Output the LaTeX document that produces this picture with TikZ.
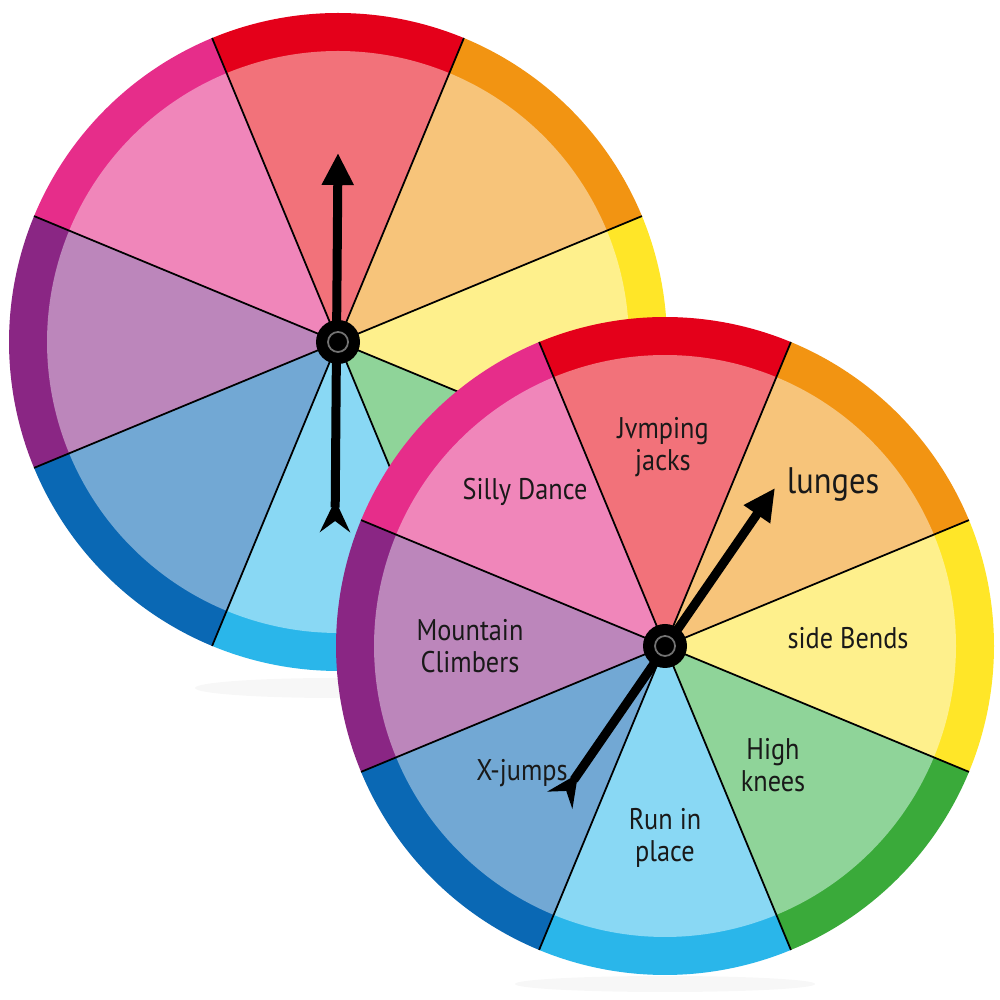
\documentclass[tikz,border=0pt]{standalone}
\usepackage{fontspec}
\newfontfamily\spinfont[FakeStretch=0.88]{PT Sans}
\usepackage{tikz}
\usetikzlibrary{arrows.meta}
\definecolor{wRed}{RGB}{228,0,26}
\definecolor{wRedL}{RGB}{242,114,122}
\definecolor{wOrange}{RGB}{242,148,18}
\definecolor{wOrangeL}{RGB}{247,196,122}
\definecolor{wYellow}{RGB}{255,230,40}
\definecolor{wYellowL}{RGB}{254,240,140}
\definecolor{wGreen}{RGB}{58,170,58}
\definecolor{wGreenL}{RGB}{143,212,153}
\definecolor{wCyan}{RGB}{42,182,234}
\definecolor{wCyanL}{RGB}{137,216,244}
\definecolor{wBlue}{RGB}{10,104,180}
\definecolor{wBlueL}{RGB}{114,168,212}
\definecolor{wPurple}{RGB}{138,38,132}
\definecolor{wPurpleL}{RGB}{188,134,187}
\definecolor{wPink}{RGB}{230,45,138}
\definecolor{wPinkL}{RGB}{240,134,186}
\tikzset{
  segline/.style={black,line width=0.5pt},
  hub/.style={circle,fill=black,minimum size=4.4mm,inner sep=0pt},
  lbl/.style={font=\spinfont\fontsize{8.5}{9.3}\selectfont,align=center,text=black!90},
  biglbl/.style={lbl,font=\spinfont\fontsize{10.5}{12}\selectfont},
  pointer/.style={black,line width=0.9mm,
    arrows={Stealth[reversed,width=3mm,length=3.2mm,inset=1.1mm]-Triangle[width=3mm,length=3.2mm]}},
  pics/spinwheel/.style={code={
    \foreach \band/\soft [count=\i from 0] in
        {wRed/wRedL,wOrange/wOrangeL,wYellow/wYellowL,wGreen/wGreenL,
         wCyan/wCyanL,wBlue/wBlueL,wPurple/wPurpleL,wPink/wPinkL}{
      \pgfmathsetmacro\a{90-45*\i}
      \fill[\band] (0,0) -- ({\a-22.5}:3.29)
        arc[start angle=\a-22.5,end angle=\a+22.5,radius=3.29] -- cycle;
      \fill[\soft] (0,0) -- ({\a-22.5}:2.91)
        arc[start angle=\a-22.5,end angle=\a+22.5,radius=2.91] -- cycle;
    }
    \foreach \i in {0,...,7}
      \draw[segline] (0,0) -- ({22.5+45*\i}:3.29);
  }}
}
\begin{document}
\begin{tikzpicture}
  \useasboundingbox (0,0) rectangle (10,10);

  % faint shadows
  \fill[black!3] (3.35,3.12) ellipse[x radius=1.4,y radius=0.1];
  \fill[black!3] (6.65,0.16) ellipse[x radius=1.5,y radius=0.08];

  % back wheel
  \pic at (3.38,6.58) {spinwheel};
  \coordinate (btail) at (3.35,4.68);
  \coordinate (btip) at (3.38,8.47);
  \draw[pointer] (btail) -- (btip);
  \node[hub] (bhub) at (3.38,6.58) {};
  \draw[black!55,line width=0.5pt] (bhub) circle[radius=0.1];

  % front wheel
  \pic at (6.65,3.54) {spinwheel};

  \node[lbl] (jacks) at (6.63,5.53) {Jvmping\\jacks};
  \node[biglbl] (lunges) at (8.33,5.15) {lunges};
  \node[lbl] (bends) at (8.48,3.62) {side Bends};
  \node[lbl] (knees) at (7.73,2.35) {High\\knees};
  \node[lbl] (run) at (6.65,1.62) {Run in\\place};
  \node[lbl] (xjump) at (5.22,2.27) {X-jumps};
  \node[lbl] (climb) at (4.70,3.54) {Mountain\\Climbers};
  \node[lbl] (dance) at (5.25,5.08) {Silly Dance};

  \coordinate (ftail) at (5.60,2.00);
  \coordinate (ftip) at (7.75,5.12);
  \draw[pointer] (ftail) -- (ftip);
  \node[hub] (fhub) at (6.65,3.54) {};
  \draw[black!55,line width=0.5pt] (fhub) circle[radius=0.1];

\end{tikzpicture}
\end{document}
